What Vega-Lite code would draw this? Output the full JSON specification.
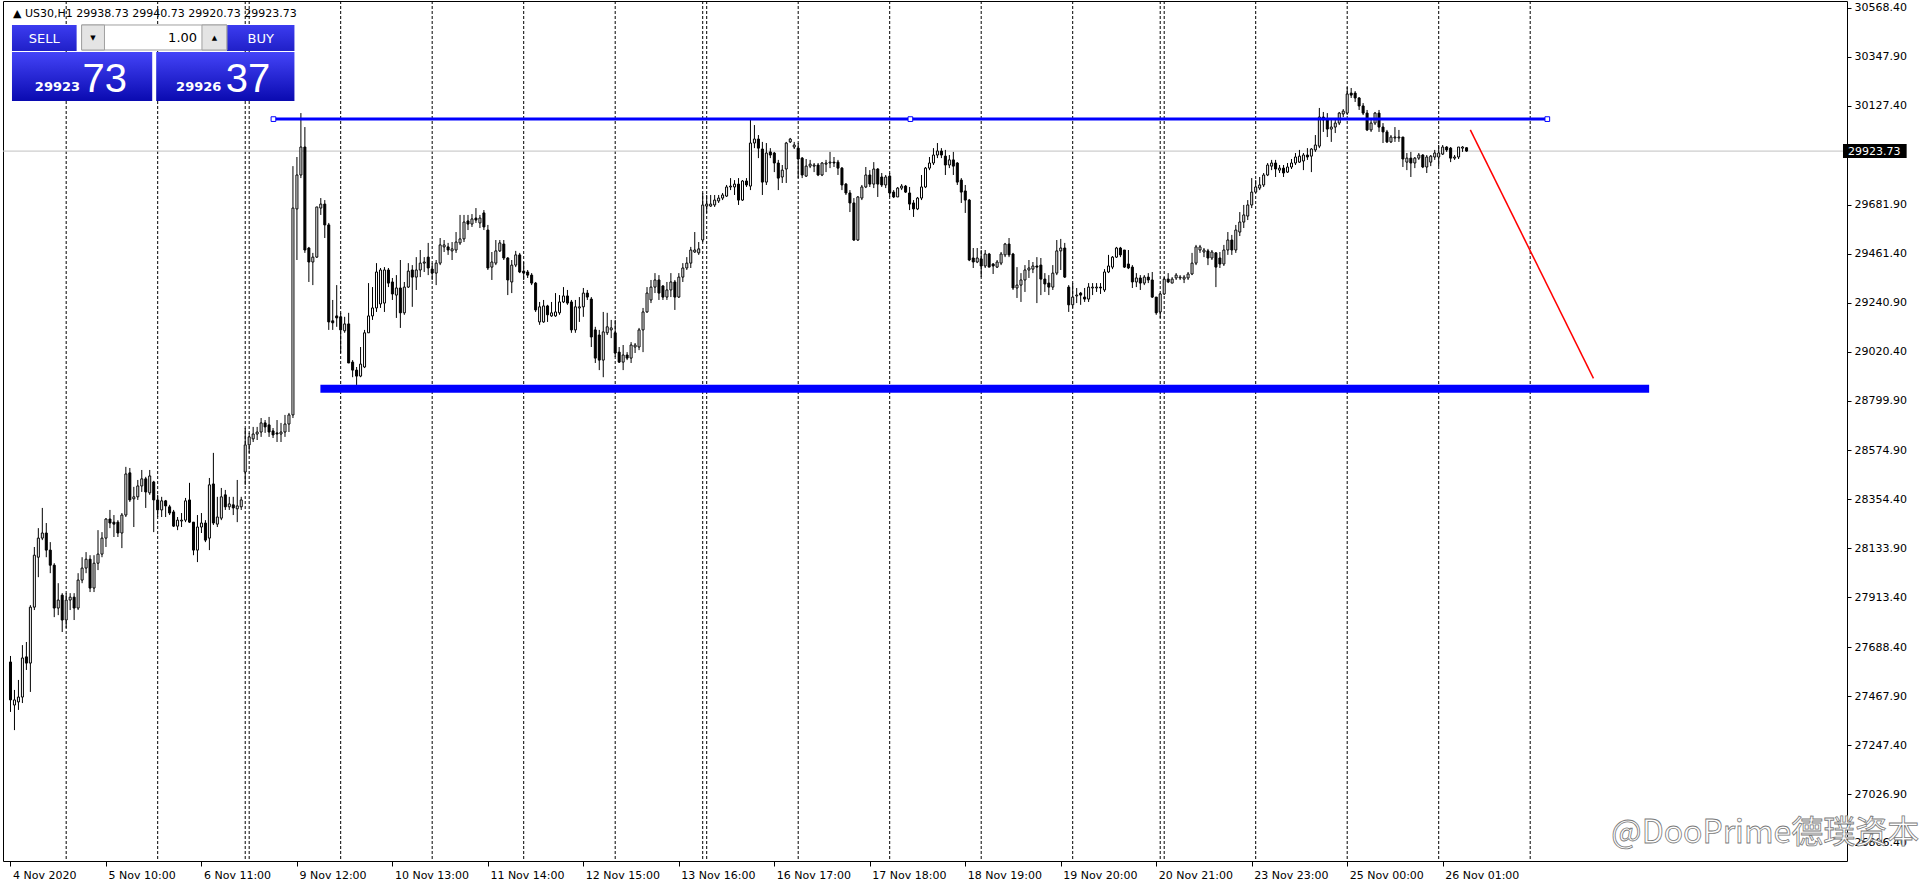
{
"$schema":"https://vega.github.io/schema/vega-lite/v6.json",
"width":1844,"height":860,
"padding":{"left":3,"top":1,"right":73,"bottom":23},
"autosize":{"type":"none"},
"background":"white",
"config":{"view":{"stroke":"black","strokeWidth":1},"font":"DejaVu Sans"},
"datasets":{
"seps":[{"i":14},{"i":37},{"i":59},{"i":60},{"i":83},{"i":106},{"i":129},{"i":152},{"i":174},{"i":175},{"i":198},{"i":221},{"i":244},{"i":267},{"i":289},{"i":290},{"i":313},{"i":336},{"i":359},{"i":382}],
"candles":[
{"i":0,"o":27622,"h":27649,"l":27397,"c":27451},
{"i":1,"o":27428,"h":27496,"l":27315,"c":27451},
{"i":2,"o":27442,"h":27541,"l":27406,"c":27464},
{"i":3,"o":27464,"h":27698,"l":27437,"c":27640},
{"i":4,"o":27645,"h":27712,"l":27586,"c":27617},
{"i":5,"o":27617,"h":27878,"l":27487,"c":27869},
{"i":6,"o":27869,"h":28140,"l":27856,"c":28103},
{"i":7,"o":28094,"h":28225,"l":28004,"c":28180},
{"i":8,"o":28180,"h":28316,"l":28171,"c":28203},
{"i":9,"o":28203,"h":28248,"l":28094,"c":28126},
{"i":10,"o":28126,"h":28162,"l":28022,"c":28058},
{"i":11,"o":28058,"h":28067,"l":27824,"c":27865},
{"i":12,"o":27865,"h":27977,"l":27833,"c":27901},
{"i":13,"o":27923,"h":27932,"l":27757,"c":27811},
{"i":14,"o":27811,"h":27932,"l":27775,"c":27901},
{"i":15,"o":27901,"h":27932,"l":27856,"c":27914},
{"i":16,"o":27914,"h":27932,"l":27811,"c":27865},
{"i":17,"o":27865,"h":28022,"l":27856,"c":27991},
{"i":18,"o":27991,"h":28094,"l":27977,"c":28045},
{"i":19,"o":28045,"h":28117,"l":28022,"c":28085},
{"i":20,"o":28085,"h":28103,"l":27937,"c":27955},
{"i":21,"o":27955,"h":28103,"l":27937,"c":28067},
{"i":22,"o":28067,"h":28216,"l":28036,"c":28108},
{"i":23,"o":28108,"h":28207,"l":28094,"c":28180},
{"i":24,"o":28180,"h":28270,"l":28140,"c":28266},
{"i":25,"o":28266,"h":28307,"l":28225,"c":28248},
{"i":26,"o":28252,"h":28284,"l":28185,"c":28243},
{"i":27,"o":28252,"h":28261,"l":28185,"c":28203},
{"i":28,"o":28203,"h":28293,"l":28135,"c":28284},
{"i":29,"o":28284,"h":28501,"l":28275,"c":28469},
{"i":30,"o":28474,"h":28496,"l":28343,"c":28352},
{"i":31,"o":28357,"h":28411,"l":28230,"c":28366},
{"i":32,"o":28366,"h":28442,"l":28352,"c":28415},
{"i":33,"o":28415,"h":28487,"l":28388,"c":28447},
{"i":34,"o":28447,"h":28456,"l":28316,"c":28388},
{"i":35,"o":28384,"h":28487,"l":28375,"c":28460},
{"i":36,"o":28433,"h":28438,"l":28207,"c":28352},
{"i":37,"o":28352,"h":28375,"l":28275,"c":28307},
{"i":38,"o":28307,"h":28366,"l":28275,"c":28348},
{"i":39,"o":28348,"h":28352,"l":28275,"c":28325},
{"i":40,"o":28321,"h":28330,"l":28284,"c":28293},
{"i":41,"o":28298,"h":28307,"l":28230,"c":28234},
{"i":42,"o":28234,"h":28275,"l":28216,"c":28261},
{"i":43,"o":28257,"h":28293,"l":28230,"c":28261},
{"i":44,"o":28261,"h":28361,"l":28252,"c":28348},
{"i":45,"o":28352,"h":28429,"l":28248,"c":28252},
{"i":46,"o":28252,"h":28252,"l":28103,"c":28126},
{"i":47,"o":28126,"h":28284,"l":28072,"c":28230},
{"i":48,"o":28230,"h":28293,"l":28203,"c":28248},
{"i":49,"o":28248,"h":28261,"l":28162,"c":28171},
{"i":50,"o":28180,"h":28451,"l":28126,"c":28420},
{"i":51,"o":28424,"h":28564,"l":28239,"c":28248},
{"i":52,"o":28243,"h":28366,"l":28230,"c":28275},
{"i":53,"o":28270,"h":28406,"l":28261,"c":28366},
{"i":54,"o":28375,"h":28397,"l":28307,"c":28321},
{"i":55,"o":28321,"h":28366,"l":28307,"c":28334},
{"i":56,"o":28330,"h":28366,"l":28284,"c":28316},
{"i":57,"o":28312,"h":28442,"l":28252,"c":28325},
{"i":58,"o":28321,"h":28366,"l":28307,"c":28352},
{"i":59,"o":28478,"h":28676,"l":28420,"c":28600},
{"i":60,"o":28600,"h":28654,"l":28564,"c":28636},
{"i":61,"o":28627,"h":28681,"l":28613,"c":28649},
{"i":62,"o":28649,"h":28681,"l":28622,"c":28658},
{"i":63,"o":28658,"h":28721,"l":28636,"c":28699},
{"i":64,"o":28699,"h":28712,"l":28654,"c":28681},
{"i":65,"o":28690,"h":28726,"l":28636,"c":28658},
{"i":66,"o":28663,"h":28676,"l":28631,"c":28645},
{"i":67,"o":28654,"h":28712,"l":28613,"c":28649},
{"i":68,"o":28649,"h":28699,"l":28613,"c":28658},
{"i":69,"o":28658,"h":28735,"l":28636,"c":28694},
{"i":70,"o":28694,"h":28744,"l":28658,"c":28735},
{"i":71,"o":28735,"h":29856,"l":28721,"c":29667},
{"i":72,"o":29663,"h":29897,"l":29433,"c":29816},
{"i":73,"o":29816,"h":30095,"l":29802,"c":29942},
{"i":74,"o":29942,"h":30032,"l":29465,"c":29478},
{"i":75,"o":29487,"h":29492,"l":29334,"c":29424},
{"i":76,"o":29424,"h":29465,"l":29320,"c":29446},
{"i":77,"o":29446,"h":29672,"l":29442,"c":29672},
{"i":78,"o":29667,"h":29712,"l":29636,"c":29685},
{"i":79,"o":29685,"h":29703,"l":29532,"c":29591},
{"i":80,"o":29591,"h":29600,"l":29118,"c":29154},
{"i":81,"o":29159,"h":29253,"l":29118,"c":29150},
{"i":82,"o":29181,"h":29320,"l":29132,"c":29172},
{"i":83,"o":29177,"h":29195,"l":29014,"c":29118},
{"i":84,"o":29114,"h":29177,"l":29105,"c":29145},
{"i":85,"o":29145,"h":29195,"l":28969,"c":28969},
{"i":86,"o":28973,"h":28982,"l":28905,"c":28937},
{"i":87,"o":28937,"h":28951,"l":28870,"c":28910},
{"i":88,"o":28910,"h":29041,"l":28905,"c":28964},
{"i":89,"o":28951,"h":29118,"l":28946,"c":29105},
{"i":90,"o":29105,"h":29329,"l":29105,"c":29181},
{"i":91,"o":29181,"h":29311,"l":29163,"c":29217},
{"i":92,"o":29217,"h":29419,"l":29199,"c":29379},
{"i":93,"o":29235,"h":29397,"l":29217,"c":29388},
{"i":94,"o":29239,"h":29401,"l":29199,"c":29388},
{"i":95,"o":29388,"h":29397,"l":29311,"c":29329},
{"i":96,"o":29334,"h":29352,"l":29253,"c":29280},
{"i":97,"o":29275,"h":29365,"l":29172,"c":29307},
{"i":98,"o":29307,"h":29433,"l":29127,"c":29195},
{"i":99,"o":29195,"h":29334,"l":29186,"c":29311},
{"i":100,"o":29311,"h":29419,"l":29307,"c":29383},
{"i":101,"o":29388,"h":29410,"l":29222,"c":29356},
{"i":102,"o":29356,"h":29446,"l":29298,"c":29388},
{"i":103,"o":29388,"h":29478,"l":29356,"c":29419},
{"i":104,"o":29419,"h":29446,"l":29379,"c":29424},
{"i":105,"o":29446,"h":29510,"l":29365,"c":29397},
{"i":106,"o":29392,"h":29419,"l":29343,"c":29374},
{"i":107,"o":29374,"h":29433,"l":29320,"c":29419},
{"i":108,"o":29419,"h":29532,"l":29410,"c":29501},
{"i":109,"o":29492,"h":29523,"l":29469,"c":29501},
{"i":110,"o":29492,"h":29510,"l":29456,"c":29478},
{"i":111,"o":29474,"h":29514,"l":29433,"c":29483},
{"i":112,"o":29478,"h":29559,"l":29465,"c":29514},
{"i":113,"o":29510,"h":29636,"l":29501,"c":29528},
{"i":114,"o":29528,"h":29636,"l":29514,"c":29604},
{"i":115,"o":29609,"h":29636,"l":29568,"c":29595},
{"i":116,"o":29595,"h":29640,"l":29582,"c":29618},
{"i":117,"o":29622,"h":29667,"l":29600,"c":29613},
{"i":118,"o":29600,"h":29636,"l":29577,"c":29622},
{"i":119,"o":29645,"h":29658,"l":29568,"c":29582},
{"i":120,"o":29568,"h":29591,"l":29388,"c":29397},
{"i":121,"o":29401,"h":29469,"l":29343,"c":29424},
{"i":122,"o":29419,"h":29523,"l":29410,"c":29474},
{"i":123,"o":29474,"h":29523,"l":29469,"c":29510},
{"i":124,"o":29505,"h":29523,"l":29433,"c":29442},
{"i":125,"o":29442,"h":29446,"l":29275,"c":29343},
{"i":126,"o":29334,"h":29433,"l":29284,"c":29410},
{"i":127,"o":29410,"h":29474,"l":29401,"c":29456},
{"i":128,"o":29456,"h":29465,"l":29374,"c":29379},
{"i":129,"o":29383,"h":29424,"l":29343,"c":29374},
{"i":130,"o":29379,"h":29388,"l":29352,"c":29365},
{"i":131,"o":29365,"h":29374,"l":29320,"c":29329},
{"i":132,"o":29329,"h":29334,"l":29199,"c":29208},
{"i":133,"o":29154,"h":29244,"l":29141,"c":29222},
{"i":134,"o":29154,"h":29253,"l":29150,"c":29226},
{"i":135,"o":29226,"h":29231,"l":29154,"c":29186},
{"i":136,"o":29181,"h":29244,"l":29177,"c":29195},
{"i":137,"o":29181,"h":29284,"l":29177,"c":29199},
{"i":138,"o":29195,"h":29275,"l":29186,"c":29244},
{"i":139,"o":29244,"h":29311,"l":29239,"c":29271},
{"i":140,"o":29271,"h":29298,"l":29231,"c":29239},
{"i":141,"o":29244,"h":29253,"l":29105,"c":29118},
{"i":142,"o":29118,"h":29253,"l":29105,"c":29222},
{"i":143,"o":29217,"h":29266,"l":29154,"c":29222},
{"i":144,"o":29222,"h":29307,"l":29177,"c":29284},
{"i":145,"o":29284,"h":29298,"l":29253,"c":29266},
{"i":146,"o":29257,"h":29266,"l":29041,"c":29086},
{"i":147,"o":29118,"h":29132,"l":28969,"c":28991},
{"i":148,"o":29095,"h":29118,"l":28937,"c":28982},
{"i":149,"o":28982,"h":29199,"l":28905,"c":29109},
{"i":150,"o":29105,"h":29195,"l":29095,"c":29132},
{"i":151,"o":29118,"h":29163,"l":29081,"c":29127},
{"i":152,"o":29105,"h":29163,"l":28996,"c":29014},
{"i":153,"o":29018,"h":29041,"l":28969,"c":28973},
{"i":154,"o":28973,"h":29050,"l":28937,"c":29005},
{"i":155,"o":29005,"h":29018,"l":28982,"c":28991},
{"i":156,"o":28991,"h":29063,"l":28969,"c":29050},
{"i":157,"o":29041,"h":29059,"l":29014,"c":29050},
{"i":158,"o":29041,"h":29127,"l":29027,"c":29118},
{"i":159,"o":29118,"h":29217,"l":29018,"c":29199},
{"i":160,"o":29199,"h":29311,"l":29195,"c":29284},
{"i":161,"o":29253,"h":29343,"l":29239,"c":29311},
{"i":162,"o":29311,"h":29374,"l":29284,"c":29343},
{"i":163,"o":29343,"h":29365,"l":29253,"c":29284},
{"i":164,"o":29316,"h":29320,"l":29253,"c":29266},
{"i":165,"o":29266,"h":29334,"l":29253,"c":29298},
{"i":166,"o":29298,"h":29374,"l":29266,"c":29334},
{"i":167,"o":29334,"h":29343,"l":29208,"c":29266},
{"i":168,"o":29266,"h":29374,"l":29262,"c":29356},
{"i":169,"o":29356,"h":29419,"l":29334,"c":29397},
{"i":170,"o":29397,"h":29446,"l":29388,"c":29419},
{"i":171,"o":29419,"h":29492,"l":29397,"c":29478},
{"i":172,"o":29469,"h":29559,"l":29465,"c":29478},
{"i":173,"o":29465,"h":29514,"l":29456,"c":29483},
{"i":174,"o":29523,"h":29735,"l":29514,"c":29681},
{"i":175,"o":29676,"h":29726,"l":29645,"c":29685},
{"i":176,"o":29676,"h":29726,"l":29672,"c":29685},
{"i":177,"o":29681,"h":29726,"l":29672,"c":29703},
{"i":178,"o":29699,"h":29726,"l":29690,"c":29712},
{"i":179,"o":29712,"h":29735,"l":29703,"c":29726},
{"i":180,"o":29721,"h":29771,"l":29717,"c":29762},
{"i":181,"o":29762,"h":29802,"l":29748,"c":29766},
{"i":182,"o":29762,"h":29793,"l":29726,"c":29775},
{"i":183,"o":29775,"h":29802,"l":29681,"c":29703},
{"i":184,"o":29703,"h":29793,"l":29699,"c":29789},
{"i":185,"o":29789,"h":29802,"l":29762,"c":29771},
{"i":186,"o":29766,"h":30064,"l":29748,"c":29960},
{"i":187,"o":29960,"h":30041,"l":29937,"c":29978},
{"i":188,"o":29978,"h":29996,"l":29892,"c":29937},
{"i":189,"o":29933,"h":29965,"l":29726,"c":29784},
{"i":190,"o":29784,"h":29960,"l":29771,"c":29915},
{"i":191,"o":29920,"h":29937,"l":29892,"c":29906},
{"i":192,"o":29915,"h":29920,"l":29829,"c":29870},
{"i":193,"o":29870,"h":29884,"l":29748,"c":29802},
{"i":194,"o":29807,"h":29861,"l":29780,"c":29838},
{"i":195,"o":29843,"h":29965,"l":29780,"c":29960},
{"i":196,"o":29965,"h":29983,"l":29960,"c":29978},
{"i":197,"o":29942,"h":29965,"l":29933,"c":29951},
{"i":198,"o":29937,"h":29960,"l":29802,"c":29888},
{"i":199,"o":29892,"h":29897,"l":29802,"c":29816},
{"i":200,"o":29811,"h":29888,"l":29807,"c":29856},
{"i":201,"o":29856,"h":29884,"l":29847,"c":29865},
{"i":202,"o":29856,"h":29870,"l":29829,"c":29861},
{"i":203,"o":29861,"h":29870,"l":29811,"c":29816},
{"i":204,"o":29816,"h":29874,"l":29811,"c":29870},
{"i":205,"o":29865,"h":29884,"l":29829,"c":29870},
{"i":206,"o":29870,"h":29920,"l":29847,"c":29874},
{"i":207,"o":29874,"h":29897,"l":29852,"c":29870},
{"i":208,"o":29874,"h":29884,"l":29816,"c":29847},
{"i":209,"o":29847,"h":29852,"l":29748,"c":29771},
{"i":210,"o":29775,"h":29780,"l":29726,"c":29735},
{"i":211,"o":29735,"h":29748,"l":29649,"c":29690},
{"i":212,"o":29690,"h":29712,"l":29519,"c":29523},
{"i":213,"o":29523,"h":29721,"l":29519,"c":29717},
{"i":214,"o":29712,"h":29771,"l":29703,"c":29762},
{"i":215,"o":29762,"h":29852,"l":29757,"c":29816},
{"i":216,"o":29816,"h":29838,"l":29762,"c":29775},
{"i":217,"o":29775,"h":29874,"l":29757,"c":29843},
{"i":218,"o":29843,"h":29847,"l":29717,"c":29775},
{"i":219,"o":29807,"h":29825,"l":29762,"c":29771},
{"i":220,"o":29771,"h":29816,"l":29757,"c":29807},
{"i":221,"o":29811,"h":29825,"l":29717,"c":29735},
{"i":222,"o":29739,"h":29748,"l":29712,"c":29717},
{"i":223,"o":29717,"h":29762,"l":29717,"c":29757},
{"i":224,"o":29757,"h":29775,"l":29748,"c":29766},
{"i":225,"o":29766,"h":29771,"l":29735,"c":29739},
{"i":226,"o":29735,"h":29762,"l":29658,"c":29685},
{"i":227,"o":29690,"h":29703,"l":29627,"c":29663},
{"i":228,"o":29663,"h":29717,"l":29658,"c":29712},
{"i":229,"o":29712,"h":29816,"l":29703,"c":29762},
{"i":230,"o":29762,"h":29852,"l":29757,"c":29847},
{"i":231,"o":29847,"h":29897,"l":29838,"c":29870},
{"i":232,"o":29870,"h":29937,"l":29861,"c":29906},
{"i":233,"o":29906,"h":29960,"l":29892,"c":29924},
{"i":234,"o":29924,"h":29937,"l":29892,"c":29906},
{"i":235,"o":29901,"h":29929,"l":29816,"c":29861},
{"i":236,"o":29861,"h":29906,"l":29847,"c":29884},
{"i":237,"o":29884,"h":29920,"l":29816,"c":29856},
{"i":238,"o":29870,"h":29874,"l":29771,"c":29784},
{"i":239,"o":29793,"h":29802,"l":29690,"c":29739},
{"i":240,"o":29744,"h":29771,"l":29645,"c":29703},
{"i":241,"o":29703,"h":29708,"l":29428,"c":29433},
{"i":242,"o":29442,"h":29487,"l":29397,"c":29424},
{"i":243,"o":29424,"h":29487,"l":29419,"c":29442},
{"i":244,"o":29438,"h":29478,"l":29356,"c":29406},
{"i":245,"o":29406,"h":29478,"l":29397,"c":29460},
{"i":246,"o":29460,"h":29465,"l":29401,"c":29401},
{"i":247,"o":29415,"h":29419,"l":29370,"c":29406},
{"i":248,"o":29401,"h":29433,"l":29397,"c":29424},
{"i":249,"o":29419,"h":29469,"l":29410,"c":29460},
{"i":250,"o":29456,"h":29510,"l":29446,"c":29505},
{"i":251,"o":29505,"h":29532,"l":29446,"c":29456},
{"i":252,"o":29460,"h":29465,"l":29298,"c":29307},
{"i":253,"o":29307,"h":29401,"l":29262,"c":29320},
{"i":254,"o":29320,"h":29374,"l":29244,"c":29343},
{"i":255,"o":29343,"h":29410,"l":29289,"c":29388},
{"i":256,"o":29388,"h":29433,"l":29352,"c":29397},
{"i":257,"o":29392,"h":29424,"l":29374,"c":29406},
{"i":258,"o":29406,"h":29446,"l":29239,"c":29401},
{"i":259,"o":29410,"h":29442,"l":29275,"c":29347},
{"i":260,"o":29347,"h":29374,"l":29289,"c":29325},
{"i":261,"o":29329,"h":29365,"l":29275,"c":29311},
{"i":262,"o":29311,"h":29410,"l":29298,"c":29374},
{"i":263,"o":29374,"h":29523,"l":29365,"c":29474},
{"i":264,"o":29474,"h":29528,"l":29388,"c":29487},
{"i":265,"o":29487,"h":29510,"l":29352,"c":29356},
{"i":266,"o":29311,"h":29320,"l":29199,"c":29231},
{"i":267,"o":29231,"h":29329,"l":29217,"c":29266},
{"i":268,"o":29271,"h":29307,"l":29239,"c":29275},
{"i":269,"o":29284,"h":29289,"l":29231,"c":29275},
{"i":270,"o":29266,"h":29307,"l":29244,"c":29257},
{"i":271,"o":29257,"h":29329,"l":29244,"c":29311},
{"i":272,"o":29307,"h":29329,"l":29275,"c":29311},
{"i":273,"o":29307,"h":29329,"l":29289,"c":29311},
{"i":274,"o":29311,"h":29329,"l":29280,"c":29307},
{"i":275,"o":29298,"h":29392,"l":29289,"c":29379},
{"i":276,"o":29379,"h":29456,"l":29374,"c":29406},
{"i":277,"o":29401,"h":29451,"l":29392,"c":29446},
{"i":278,"o":29446,"h":29492,"l":29442,"c":29487},
{"i":279,"o":29487,"h":29492,"l":29446,"c":29456},
{"i":280,"o":29478,"h":29478,"l":29397,"c":29401},
{"i":281,"o":29415,"h":29478,"l":29392,"c":29397},
{"i":282,"o":29401,"h":29410,"l":29307,"c":29334},
{"i":283,"o":29334,"h":29374,"l":29311,"c":29352},
{"i":284,"o":29352,"h":29365,"l":29298,"c":29329},
{"i":285,"o":29329,"h":29365,"l":29320,"c":29356},
{"i":286,"o":29356,"h":29374,"l":29329,"c":29343},
{"i":287,"o":29343,"h":29379,"l":29262,"c":29266},
{"i":288,"o":29266,"h":29266,"l":29186,"c":29195},
{"i":289,"o":29199,"h":29284,"l":29172,"c":29280},
{"i":290,"o":29280,"h":29356,"l":29275,"c":29347},
{"i":291,"o":29347,"h":29374,"l":29329,"c":29334},
{"i":292,"o":29329,"h":29356,"l":29329,"c":29347},
{"i":293,"o":29352,"h":29374,"l":29343,"c":29365},
{"i":294,"o":29352,"h":29365,"l":29343,"c":29356},
{"i":295,"o":29347,"h":29365,"l":29329,"c":29356},
{"i":296,"o":29352,"h":29379,"l":29343,"c":29370},
{"i":297,"o":29370,"h":29465,"l":29365,"c":29419},
{"i":298,"o":29419,"h":29501,"l":29410,"c":29492},
{"i":299,"o":29478,"h":29501,"l":29465,"c":29492},
{"i":300,"o":29469,"h":29487,"l":29446,"c":29478},
{"i":301,"o":29474,"h":29483,"l":29410,"c":29442},
{"i":302,"o":29442,"h":29478,"l":29433,"c":29469},
{"i":303,"o":29465,"h":29469,"l":29311,"c":29401},
{"i":304,"o":29442,"h":29469,"l":29397,"c":29415},
{"i":305,"o":29415,"h":29501,"l":29406,"c":29478},
{"i":306,"o":29478,"h":29559,"l":29456,"c":29523},
{"i":307,"o":29523,"h":29546,"l":29456,"c":29478},
{"i":308,"o":29478,"h":29591,"l":29465,"c":29568},
{"i":309,"o":29559,"h":29649,"l":29541,"c":29604},
{"i":310,"o":29604,"h":29681,"l":29577,"c":29636},
{"i":311,"o":29631,"h":29703,"l":29613,"c":29681},
{"i":312,"o":29681,"h":29802,"l":29667,"c":29739},
{"i":313,"o":29739,"h":29793,"l":29735,"c":29762},
{"i":314,"o":29757,"h":29807,"l":29748,"c":29771},
{"i":315,"o":29771,"h":29825,"l":29762,"c":29816},
{"i":316,"o":29816,"h":29870,"l":29811,"c":29861},
{"i":317,"o":29856,"h":29884,"l":29838,"c":29870},
{"i":318,"o":29870,"h":29884,"l":29807,"c":29843},
{"i":319,"o":29838,"h":29861,"l":29825,"c":29847},
{"i":320,"o":29847,"h":29861,"l":29807,"c":29825},
{"i":321,"o":29829,"h":29870,"l":29825,"c":29852},
{"i":322,"o":29852,"h":29888,"l":29843,"c":29870},
{"i":323,"o":29870,"h":29915,"l":29861,"c":29897},
{"i":324,"o":29874,"h":29929,"l":29870,"c":29901},
{"i":325,"o":29879,"h":29915,"l":29838,"c":29906},
{"i":326,"o":29906,"h":29937,"l":29884,"c":29897},
{"i":327,"o":29901,"h":29937,"l":29829,"c":29933},
{"i":328,"o":29929,"h":29996,"l":29920,"c":29951},
{"i":329,"o":29946,"h":30118,"l":29937,"c":30077},
{"i":330,"o":30077,"h":30100,"l":30010,"c":30064},
{"i":331,"o":30064,"h":30095,"l":29987,"c":30023},
{"i":332,"o":30023,"h":30064,"l":29965,"c":30032},
{"i":333,"o":30032,"h":30064,"l":30005,"c":30050},
{"i":334,"o":30050,"h":30100,"l":30041,"c":30095},
{"i":335,"o":30091,"h":30113,"l":30077,"c":30104},
{"i":336,"o":30095,"h":30212,"l":30086,"c":30181},
{"i":337,"o":30185,"h":30208,"l":30163,"c":30176},
{"i":338,"o":30185,"h":30194,"l":30145,"c":30163},
{"i":339,"o":30163,"h":30167,"l":30109,"c":30127},
{"i":340,"o":30127,"h":30140,"l":30086,"c":30095},
{"i":341,"o":30095,"h":30109,"l":30014,"c":30019},
{"i":342,"o":30019,"h":30064,"l":30010,"c":30050},
{"i":343,"o":30050,"h":30100,"l":30041,"c":30095},
{"i":344,"o":30095,"h":30109,"l":30010,"c":30032},
{"i":345,"o":30032,"h":30050,"l":29960,"c":30010},
{"i":346,"o":30010,"h":30019,"l":29960,"c":29965},
{"i":347,"o":29965,"h":29996,"l":29960,"c":29987},
{"i":348,"o":29983,"h":30032,"l":29965,"c":29987},
{"i":349,"o":29983,"h":30019,"l":29965,"c":29987},
{"i":350,"o":29987,"h":29987,"l":29852,"c":29888},
{"i":351,"o":29874,"h":29915,"l":29838,"c":29892},
{"i":352,"o":29892,"h":29920,"l":29807,"c":29870},
{"i":353,"o":29870,"h":29897,"l":29847,"c":29892},
{"i":354,"o":29892,"h":29915,"l":29884,"c":29906},
{"i":355,"o":29906,"h":29910,"l":29847,"c":29852},
{"i":356,"o":29852,"h":29906,"l":29825,"c":29897},
{"i":357,"o":29874,"h":29906,"l":29856,"c":29901},
{"i":358,"o":29897,"h":29929,"l":29884,"c":29915},
{"i":359,"o":29897,"h":29951,"l":29856,"c":29915},
{"i":360,"o":29910,"h":29951,"l":29906,"c":29942},
{"i":361,"o":29942,"h":29946,"l":29920,"c":29929},
{"i":362,"o":29937,"h":29942,"l":29874,"c":29892},
{"i":363,"o":29892,"h":29906,"l":29884,"c":29897},
{"i":364,"o":29897,"h":29942,"l":29888,"c":29942},
{"i":365,"o":29937,"h":29946,"l":29920,"c":29942},
{"i":366,"o":29938.73,"h":29940.73,"l":29920.73,"c":29923.73}
]},
"layer":[
{"data":{"name":"seps"},
 "mark":{"type":"rule","color":"black","strokeWidth":1,"strokeDash":[3,2]},
 "encoding":{"x":{"field":"i","type":"quantitative","title":null,
   "scale":{"domain":[-0.625,460.375],"nice":false,"zero":false},
   "axis":{"orient":"bottom","values":[0,24,48,72,96,120,144,168,192,216,240,264,288,312,336,360],
     "labelExpr":"['4 Nov 2020','5 Nov 10:00','6 Nov 11:00','9 Nov 12:00','10 Nov 13:00','11 Nov 14:00','12 Nov 15:00','13 Nov 16:00','16 Nov 17:00','17 Nov 18:00','18 Nov 19:00','19 Nov 20:00','20 Nov 21:00','23 Nov 23:00','25 Nov 00:00','26 Nov 01:00'][round(datum.value/24)]",
     "labelAlign":"left","labelBaseline":"top","labelPadding":3,"labelOffset":2,"tickSize":5,"tickColor":"black","domain":false,"grid":false,
     "labelFont":"DejaVu Sans","labelFontSize":11,"labelColor":"black","labelOverlap":false,"labelFlush":false,"labelBound":false,"title":null}}}},
{"data":{"values":[{"price":29923.73}]},
 "mark":{"type":"rule","color":"#c0c0c0","strokeWidth":1},
 "encoding":{"y":{"field":"price","type":"quantitative","title":null}}},
{"data":{"name":"candles"},
 "mark":{"type":"rule","color":"black","strokeWidth":1},
 "encoding":{"x":{"field":"i","type":"quantitative","title":null},
  "y":{"field":"l","type":"quantitative","title":null,
   "scale":{"domain":[26725.3,30599.9],"nice":false,"zero":false},
   "axis":{"orient":"right","values":[30568.4,30347.9,30127.4,29681.9,29461.4,29240.9,29020.4,28799.9,28574.9,28354.4,28133.9,27913.4,27688.4,27467.9,27247.4,27026.9,26806.4],
    "format":".2f","labelFont":"DejaVu Sans","labelFontSize":11,"labelColor":"black","tickColor":"black","tickSize":4,"labelPadding":3,
    "domain":false,"grid":false,"labelBaseline":"middle","labelAlign":"left","labelOverlap":false,"labelBound":false,"labelFlush":false,"title":null}},
  "y2":{"field":"h"}}},
{"data":{"name":"candles"},
 "mark":{"type":"bar","width":2,"stroke":"black","strokeWidth":1},
 "encoding":{"x":{"field":"i","type":"quantitative","title":null},
  "y":{"field":"o","type":"quantitative","title":null},
  "y2":{"field":"c"},
  "fill":{"condition":{"test":"datum.c >= datum.o","value":"white"},"value":"black"}}},
{"data":{"values":[{"from":77.9,"to":411.9,"price":28852.7}]},
 "mark":{"type":"rule","color":"#0000ff","strokeWidth":8},
 "encoding":{"x":{"field":"from","type":"quantitative","title":null},"x2":{"field":"to"},"y":{"field":"price","type":"quantitative","title":null}}},
{"data":{"values":[{"from":66.1,"to":386.3,"price":30067.8}]},
 "mark":{"type":"rule","color":"#0000ff","strokeWidth":3},
 "encoding":{"x":{"field":"from","type":"quantitative","title":null},"x2":{"field":"to"},"y":{"field":"price","type":"quantitative","title":null}}},
{"data":{"values":[{"i":66.1,"price":30067.8},{"i":226.2,"price":30067.8},{"i":386.3,"price":30067.8}]},
 "mark":{"type":"point","shape":"square","size":22,"filled":true,"fill":"white","stroke":"#0000ff","strokeWidth":1,"opacity":1},
 "encoding":{"x":{"field":"i","type":"quantitative","title":null},"y":{"field":"price","type":"quantitative","title":null}}},
{"data":{"values":[{"i":366.95,"price":30019},{"i":397.9,"price":28899.6}]},
 "mark":{"type":"line","color":"#ff0000","strokeWidth":1.5},
 "encoding":{"x":{"field":"i","type":"quantitative","title":null},"y":{"field":"price","type":"quantitative","title":null}}},
{"data":{"values":[{}]},
 "mark":{"type":"rect","color":"black"},
 "encoding":{"x":{"datum":460.625},"x2":{"datum":476.625},"y":{"datum":29955.2},"y2":{"datum":29892.2}}},
{"data":{"values":[{}]},
 "mark":{"type":"text","text":"29923.73","color":"white","font":"DejaVu Sans","fontSize":11,"align":"left","baseline":"middle"},
 "encoding":{"x":{"datum":461.9},"y":{"datum":29920}}},
{"data":{"values":[{}]},
 "mark":{"type":"text","text":"▲ US30,H1  29938.73 29940.73 29920.73 29923.73","color":"black","font":"DejaVu Sans","fontSize":11,"align":"left","baseline":"alphabetic"},
 "encoding":{"x":{"datum":0.625},"y":{"datum":30527.8}}},
{"data":{"values":[{}]},
 "mark":{"type":"rect","color":{"gradient":"linear","x1":0,"y1":0,"x2":0,"y2":1,"stops":[{"offset":0,"color":"#3c3cf0"},{"offset":1,"color":"#2020c8"}]}},
 "encoding":{"x":{"datum":0.375},"x2":{"datum":16.625},"y":{"datum":30491.8},"y2":{"datum":30374.6}}},
{"data":{"values":[{}]},
 "mark":{"type":"rect","color":{"gradient":"linear","x1":0,"y1":0,"x2":0,"y2":1,"stops":[{"offset":0,"color":"#4444f8"},{"offset":1,"color":"#0a0ab0"}]}},
 "encoding":{"x":{"datum":0.375},"x2":{"datum":35.625},"y":{"datum":30370.1},"y2":{"datum":30149.4}}},
{"data":{"values":[{}]},
 "mark":{"type":"rect","color":{"gradient":"linear","x1":0,"y1":0,"x2":0,"y2":1,"stops":[{"offset":0,"color":"#3c3cf0"},{"offset":1,"color":"#2020c8"}]}},
 "encoding":{"x":{"datum":54.375},"x2":{"datum":71.375},"y":{"datum":30491.8},"y2":{"datum":30374.6}}},
{"data":{"values":[{}]},
 "mark":{"type":"rect","color":{"gradient":"linear","x1":0,"y1":0,"x2":0,"y2":1,"stops":[{"offset":0,"color":"#4444f8"},{"offset":1,"color":"#0a0ab0"}]}},
 "encoding":{"x":{"datum":36.625},"x2":{"datum":71.375},"y":{"datum":30370.1},"y2":{"datum":30149.4}}},
{"data":{"values":[{}]},
 "mark":{"type":"rect","fill":"white","stroke":"#a0a0a0","strokeWidth":1},
 "encoding":{"x":{"datum":17.875},"x2":{"datum":54.375},"y":{"datum":30491.8},"y2":{"datum":30379.1}}},
{"data":{"values":[{}]},
 "mark":{"type":"rect","fill":"#e4e4e4","stroke":"#a0a0a0","strokeWidth":1},
 "encoding":{"x":{"datum":17.875},"x2":{"datum":23.625},"y":{"datum":30491.8},"y2":{"datum":30379.1}}},
{"data":{"values":[{}]},
 "mark":{"type":"rect","fill":"#e4e4e4","stroke":"#a0a0a0","strokeWidth":1},
 "encoding":{"x":{"datum":48.125},"x2":{"datum":54.375},"y":{"datum":30491.8},"y2":{"datum":30379.1}}},
{"data":{"values":[{}]},
 "mark":{"type":"text","text":"SELL","color":"white","font":"DejaVu Sans","fontSize":13,"align":"center","baseline":"middle"},
 "encoding":{"x":{"datum":8.5},"y":{"datum":30428.7}}},
{"data":{"values":[{}]},
 "mark":{"type":"text","text":"BUY","color":"white","font":"DejaVu Sans","fontSize":13,"align":"center","baseline":"middle"},
 "encoding":{"x":{"datum":62.9},"y":{"datum":30428.7}}},
{"data":{"values":[{}]},
 "mark":{"type":"text","text":"1.00","color":"black","font":"DejaVu Sans","fontSize":13,"align":"right","baseline":"middle"},
 "encoding":{"x":{"datum":46.9},"y":{"datum":30433.2}}},
{"data":{"values":[{}]},
 "mark":{"type":"text","text":"▼","color":"black","font":"DejaVu Sans","fontSize":7,"align":"center","baseline":"middle"},
 "encoding":{"x":{"datum":20.75},"y":{"datum":30433.2}}},
{"data":{"values":[{}]},
 "mark":{"type":"text","text":"▲","color":"black","font":"DejaVu Sans","fontSize":7,"align":"center","baseline":"middle"},
 "encoding":{"x":{"datum":51.25},"y":{"datum":30433.2}}},
{"data":{"values":[{}]},
 "mark":{"type":"text","text":"29923","color":"white","font":"DejaVu Sans","fontSize":13,"fontWeight":"bold","align":"left","baseline":"alphabetic"},
 "encoding":{"x":{"datum":6.125},"y":{"datum":30194.4}}},
{"data":{"values":[{}]},
 "mark":{"type":"text","text":"73","color":"white","font":"Liberation Sans","fontSize":40,"align":"left","baseline":"alphabetic"},
 "encoding":{"x":{"datum":18.125},"y":{"datum":30189.9}}},
{"data":{"values":[{}]},
 "mark":{"type":"text","text":"29926","color":"white","font":"DejaVu Sans","fontSize":13,"fontWeight":"bold","align":"left","baseline":"alphabetic"},
 "encoding":{"x":{"datum":41.625},"y":{"datum":30194.4}}},
{"data":{"values":[{}]},
 "mark":{"type":"text","text":"37","color":"white","font":"Liberation Sans","fontSize":40,"align":"left","baseline":"alphabetic"},
 "encoding":{"x":{"datum":54.125},"y":{"datum":30189.9}}},
{"data":{"values":[{}]},
 "mark":{"type":"text","text":"@DooPrime德璞资本","fill":"white","stroke":"#7a7a7a","strokeWidth":0.8,"font":"Noto Sans CJK SC","fontSize":32,"align":"left","baseline":"alphabetic"},
 "encoding":{"x":{"datum":402.4},"y":{"datum":26806.4}}}
]
}
